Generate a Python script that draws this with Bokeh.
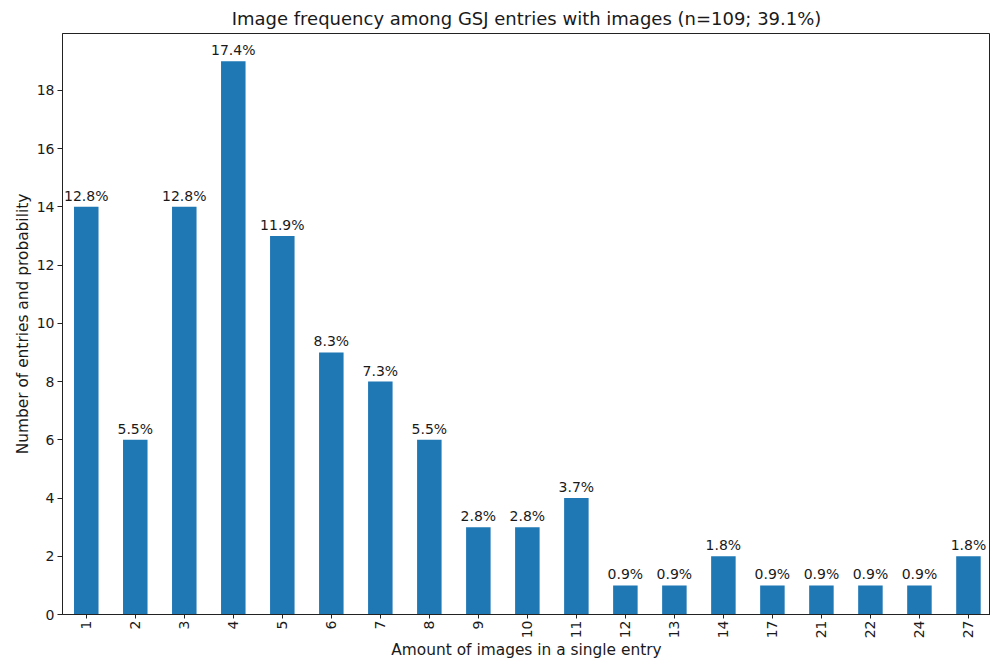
from bokeh.plotting import figure
from bokeh.models import Range1d, FixedTicker, ColumnDataSource, LabelSet
from bokeh.core.properties import value
from bokeh.embed import file_html
from bokeh.resources import INLINE
import math

categories = ["1", "2", "3", "4", "5", "6", "7", "8", "9", "10", "11", "12", "13", "14", "17", "21", "22", "24", "27"]
counts = [14, 6, 14, 19, 13, 9, 8, 6, 3, 3, 4, 1, 1, 2, 1, 1, 1, 1, 2]
pct_labels = ["12.8%", "5.5%", "12.8%", "17.4%", "11.9%", "8.3%", "7.3%", "5.5%", "2.8%", "2.8%", "3.7%",
              "0.9%", "0.9%", "1.8%", "0.9%", "0.9%", "0.9%", "0.9%", "1.8%"]
y_ticks = [0, 2, 4, 6, 8, 10, 12, 14, 16, 18]

FONT = "DejaVu Sans"
TXT = "#1a1a1a"

xs = list(range(len(categories)))
src = ColumnDataSource(dict(x=xs, top=counts, label=pct_labels))

p = figure(width=990, height=662, output_backend="svg", toolbar_location=None,
           x_range=Range1d(-0.485, len(categories) - 0.55), y_range=Range1d(0, 19.95),
           title="Image frequency among GSJ entries with images (n=109; 39.1%)")
p.min_border_left = 62
p.min_border_right = 0
p.min_border_top = 33
p.min_border_bottom = 46

p.vbar(x="x", top="top", width=0.5, bottom=0, source=src, color="#1f77b4", line_color=None)

labels = LabelSet(x="x", y="top", text="label", source=src, text_align="center", text_baseline="bottom",
                  y_offset=3, text_font=value(FONT), text_font_size=value("14px"), text_color=TXT)
p.add_layout(labels)

p.title.text_font = FONT
p.title.text_font_size = "18px"
p.title.text_font_style = "normal"
p.title.text_color = TXT
p.title.align = "center"
p.title.standoff = 10

p.xgrid.visible = False
p.ygrid.visible = False
p.outline_line_color = "#222222"
p.outline_line_width = 1
p.outline_line_alpha = 1

p.xaxis.ticker = FixedTicker(ticks=xs)
p.xaxis.major_label_overrides = {i: c for i, c in zip(xs, categories)}
p.xaxis.major_label_orientation = math.pi / 2
p.xaxis.axis_label = "Amount of images in a single entry"

p.yaxis.ticker = FixedTicker(ticks=y_ticks)
p.yaxis.axis_label = "Number of entries and probability"

for ax in (p.xaxis[0], p.yaxis[0]):
    ax.minor_tick_line_color = None
    ax.major_tick_out = 5
    ax.major_tick_in = 0
    ax.major_tick_line_color = "#222222"
    ax.axis_line_color = "#222222"
    ax.major_label_text_font = FONT
    ax.major_label_text_font_size = "14px"
    ax.major_label_text_color = TXT
    ax.major_label_standoff = 3
    ax.axis_label_text_font = FONT
    ax.axis_label_text_font_size = "15.4px"
    ax.axis_label_text_font_style = "normal"
    ax.axis_label_text_color = TXT
    ax.axis_label_standoff = 2

p.xaxis[0].major_tick_out = 4
p.xaxis[0].major_label_standoff = 2
p.xaxis[0].axis_label_standoff = 0

open("out.html", "w").write(file_html(p, INLINE))
